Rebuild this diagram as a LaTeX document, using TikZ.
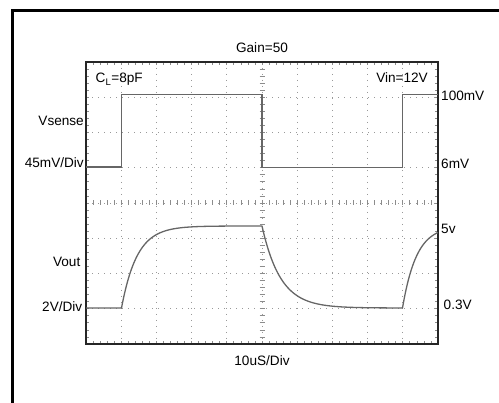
\documentclass[tikz,border=0pt]{standalone}
\usepackage{fontspec}
\setmainfont{Liberation Sans}
\begin{document}
\begin{tikzpicture}[x=1pt,y=-1pt,
  lbl/.style={font=\fontsize{13.6}{16}\selectfont, inner sep=0pt},
  gridl/.style={black!40, line width=0.8pt, dash pattern=on 1pt off 5pt},
  tick/.style={black!45, line width=0.7pt},
  trace/.style={black!60, line width=1.3pt},
  scopeframe/.style={black!85, line width=2pt}]
\useasboundingbox (0,0) rectangle (499,403);
\draw[line width=3pt] (12.5,403) -- (12.5,10.5) -- (499,10.5);
% dotted grid
\foreach \i in {1,...,9} \draw[gridl] ({86+35.2*\i},62) -- ({86+35.2*\i},344);
\foreach \j in {1,...,7} \draw[gridl] (86,{62+35.25*\j}) -- (438,{62+35.25*\j});
% minor ticks
\foreach \k in {1,...,49} {
  \draw[tick] ({86+7.04*\k},62) -- ++(0,3);
  \draw[tick] ({86+7.04*\k},344) -- ++(0,-3);
  \draw[tick] ({86+7.04*\k},200.5) -- ++(0,5);
}
\foreach \k in {1,...,39} {
  \draw[tick] (86,{62+7.05*\k}) -- ++(3,0);
  \draw[tick] (438,{62+7.05*\k}) -- ++(-3,0);
  \draw[tick] (259.5,{62+7.05*\k}) -- ++(5,0);
}
% graticule border
\draw[scopeframe] (86,62) rectangle (438,344);
% Vsense trace
\draw[trace] (86,167) -- (121.5,167) -- (121.5,94.5) -- (262,94.5) -- (262,167.5) -- (402.5,167.5) -- (402.5,94.5) -- (438,94.5);
% Vout trace
\draw[trace, line join=round] (86,308) -- (121.5,308)
  -- plot[domain=121.5:262,samples=140] (\x,{308-82*(1-exp(-(\x-121.5)/15.5))})
  -- plot[domain=262:402.5,samples=140] (\x,{226+82*(1-exp(-(\x-262)/18.5))})
  -- plot[domain=402.5:438,samples=50] (\x,{308-82*(1-exp(-(\x-402.5)/14))});
% labels
\node[lbl,anchor=base] (gain) at (262,52.7) {Gain=50};
\node[lbl,anchor=base west] (cl) at (95.5,83) {C\textsubscript{L}=8pF};
\node[lbl,anchor=base east] (vin) at (428,83) {Vin=12V};
\node[lbl,anchor=base west] (v100) at (441,101) {100mV};
\node[lbl,anchor=base west] (v6) at (441,169) {6mV};
\node[lbl,anchor=base west] (v5) at (441,234) {5v};
\node[lbl,anchor=base west] (v03) at (443.5,309.5) {0.3V};
\node[lbl,anchor=base] (tdiv) at (262,366) {10uS/Div};
\node[lbl,anchor=base east] (vs) at (84,125.7) {Vsense};
\node[lbl,anchor=base east] (vsd) at (84,167.3) {45mV/Div};
\node[lbl,anchor=base east] (vo) at (80.5,266.7) {Vout};
\node[lbl,anchor=base east] (vod) at (82.5,311.7) {2V/Div};
\end{tikzpicture}
\end{document}
